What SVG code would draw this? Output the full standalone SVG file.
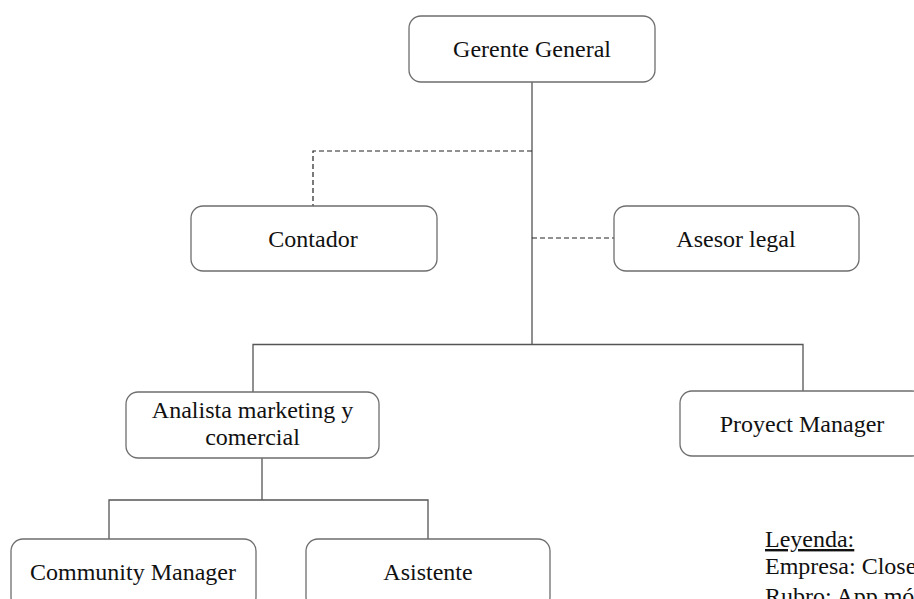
<svg xmlns="http://www.w3.org/2000/svg" width="914" height="599" viewBox="0 0 914 599">
<style>
.box{fill:#fff;stroke:#6e6e6e;stroke-width:1.3}
.lbl{font-family:"Liberation Serif","Times New Roman",serif;font-size:24px;fill:#111;text-anchor:middle}
.leg{font-family:"Liberation Serif","Times New Roman",serif;font-size:24px;fill:#111}
.solid{fill:none;stroke:#555;stroke-width:1.3}
.dash{fill:none;stroke:#222;stroke-width:1.2;stroke-dasharray:5,3}
</style>
<rect width="914" height="599" fill="#fff"/>
<g id="connectors">
<path class="solid" d="M532 82V344.5M253 392V344.5H803V391"/>
<path class="dash" d="M532 151H313V206"/>
<path class="dash" d="M532 238H614"/>
<path class="solid" d="M262 458V500M109 539V500H428V539"/>
</g>
<g id="gerente"><rect class="box" x="409" y="16" width="246" height="66" rx="12"/><text class="lbl" x="532" y="57">Gerente General</text></g>
<g id="contador"><rect class="box" x="191" y="206" width="246" height="65" rx="12"/><text class="lbl" x="313" y="247">Contador</text></g>
<g id="asesor"><rect class="box" x="614" y="206" width="245" height="65" rx="12"/><text class="lbl" x="736" y="247">Asesor legal</text></g>
<g id="analista"><rect class="box" x="126" y="392" width="253" height="66" rx="12"/><text class="lbl" x="252.5" y="418">Analista marketing y</text><text class="lbl" x="252.5" y="445">comercial</text></g>
<g id="proyect"><rect class="box" x="680" y="391" width="244" height="65" rx="12"/><text class="lbl" x="802" y="432">Proyect Manager</text></g>
<g id="community"><rect class="box" x="11" y="539" width="245" height="70" rx="12"/><text class="lbl" x="133" y="580">Community Manager</text></g>
<g id="asistente"><rect class="box" x="306" y="539" width="244" height="70" rx="12"/><text class="lbl" x="428" y="580">Asistente</text></g>
<g id="legend">
<text class="leg" x="765" y="547" text-decoration="underline">Leyenda:</text>
<text class="leg" x="765" y="574">Empresa: Close</text>
<text class="leg" x="765" y="604">Rubro: App mó</text>
</g>
</svg>
